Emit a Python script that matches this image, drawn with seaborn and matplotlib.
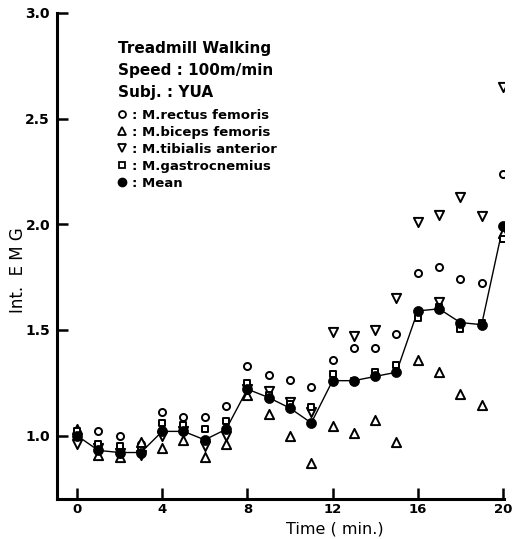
import matplotlib
matplotlib.use("Agg")
import matplotlib.pyplot as plt
from matplotlib.lines import Line2D
import seaborn as sns
import pandas as pd

times = list(range(0, 21))
rectus = [1.00, 1.02, 1.00, 0.96, 1.11, 1.09, 1.09, 1.14, 1.33, 1.285, 1.265,
          1.23, 1.36, 1.415, 1.415, 1.48, 1.77, 1.80, 1.74, 1.72, 2.24]
biceps = [1.03, 0.91, 0.90, 0.97, 0.94, 0.98, 0.90, 0.96, 1.19, 1.10, 1.00,
          0.87, 1.045, 1.01, 1.075, 0.97, 1.36, 1.30, 1.195, 1.145, 1.96]
tibialis_times = times + [17]
tibialis = [0.96, 0.94, 0.92, 0.91, 1.00, 1.02, 0.95, 1.00, 1.22, 1.21, 1.16,
            1.11, 1.49, 1.47, 1.50, 1.65, 2.01, 2.045, 2.13, 2.04, 2.65, 1.63]
gastro = [1.02, 0.96, 0.95, 0.93, 1.06, 1.05, 1.03, 1.07, 1.25, 1.19, 1.15,
          1.135, 1.29, 1.26, 1.30, 1.335, 1.555, 1.61, 1.505, 1.535, 1.93]
mean = [1.00, 0.93, 0.92, 0.92, 1.02, 1.02, 0.98, 1.03, 1.22, 1.18, 1.13,
        1.06, 1.26, 1.26, 1.28, 1.30, 1.59, 1.60, 1.535, 1.525, 1.99]

x_ticks = [0, 4, 8, 12, 16, 20]
y_ticks = [1.0, 1.5, 2.0, 2.5, 3.0]
legend_labels = [": M.rectus femoris", ": M.biceps femoris",
                 ": M.tibialis anterior", ": M.gastrocnemius", ": Mean"]
title_lines = ["Treadmill Walking", "Speed : 100m/min", "Subj. : YUA"]

sns.set_style("ticks")
plt.rcParams['font.family'] = ['DejaVu Sans']
plt.rcParams['text.color'] = 'black'
plt.rcParams['axes.labelcolor'] = 'black'
plt.rcParams['xtick.color'] = 'black'
plt.rcParams['ytick.color'] = 'black'
plt.rcParams['axes.edgecolor'] = 'black'

fig = plt.figure(figsize=(5.12, 5.39), dpi=100)
ax = fig.add_axes([57/512, 1-499/539, (504-57)/512, (499-13)/539])

df_r = pd.DataFrame({"t": times, "v": rectus})
df_b = pd.DataFrame({"t": times, "v": biceps})
df_ti = pd.DataFrame({"t": tibialis_times, "v": tibialis})
df_g = pd.DataFrame({"t": times, "v": gastro})
df_m = pd.DataFrame({"t": times, "v": mean})

sns.lineplot(data=df_m, x="t", y="v", ax=ax, color="black", lw=1.0, zorder=2)
common = dict(ax=ax, facecolor="white", edgecolor="black", linewidth=1.4, zorder=3)
sns.scatterplot(data=df_r, x="t", y="v", marker="o", s=26, **common)
sns.scatterplot(data=df_b, x="t", y="v", marker="^", s=44, **common)
sns.scatterplot(data=df_ti, x="t", y="v", marker="v", s=44, **common)
sns.scatterplot(data=df_g, x="t", y="v", marker="s", s=20, **common)
sns.scatterplot(data=df_m, x="t", y="v", marker="o", s=52, color="black",
                edgecolor="black", linewidth=0.5, ax=ax, zorder=4)

ax.set_xlim(-0.94, 20.05)
ax.set_ylim(0.70, 3.0)
ax.set_xticks(x_ticks)
ax.set_yticks(y_ticks)
ax.set_xticklabels([str(t) for t in x_ticks], fontsize=9.5, fontweight="bold")
ax.set_yticklabels([f"{v:.1f}" for v in y_ticks], fontsize=10, fontweight="bold")
ax.tick_params(direction="in", length=8, width=1.8, colors="black")
ax.tick_params(axis="y", pad=5)
ax.tick_params(axis="x", pad=3)
for s in ["top", "right"]:
    ax.spines[s].set_visible(False)
for s in ["left", "bottom"]:
    ax.spines[s].set_linewidth(2.2)
    ax.spines[s].set_color("black")

ax.set_xlabel("Time ( min.)", fontsize=11.5, va="center")
ax.set_ylabel("Int.  E M G", fontsize=12, va="center")
ax.xaxis.set_label_coords((335-57)/447, -(529-499)/486)
ax.yaxis.set_label_coords(-(57-18)/447, (499-270)/486)

for i, line in enumerate(title_lines):
    fig.text(118/512, 1-(48+22*i)/539, line, fontsize=11, fontweight="bold",
             va="center", ha="left", color="black")

handles = [
    Line2D([], [], ls="none", marker="o", ms=5, mfc="white", mec="black", mew=1.3),
    Line2D([], [], ls="none", marker="^", ms=6, mfc="white", mec="black", mew=1.3),
    Line2D([], [], ls="none", marker="v", ms=6, mfc="white", mec="black", mew=1.3),
    Line2D([], [], ls="none", marker="s", ms=4.5, mfc="white", mec="black", mew=1.3),
    Line2D([], [], ls="none", marker="o", ms=6, mfc="black", mec="black"),
]
leg = ax.legend(handles, legend_labels, loc="upper left",
                bbox_to_anchor=(117/512, 1-109/539), bbox_transform=fig.transFigure,
                frameon=False, handlelength=0.8, handletextpad=0.3,
                labelspacing=0.3, borderpad=0, borderaxespad=0,
                prop={"size": 9.5, "weight": "bold"})
for t in leg.get_texts():
    t.set_color("black")

fig.savefig("out.png", dpi=100)
